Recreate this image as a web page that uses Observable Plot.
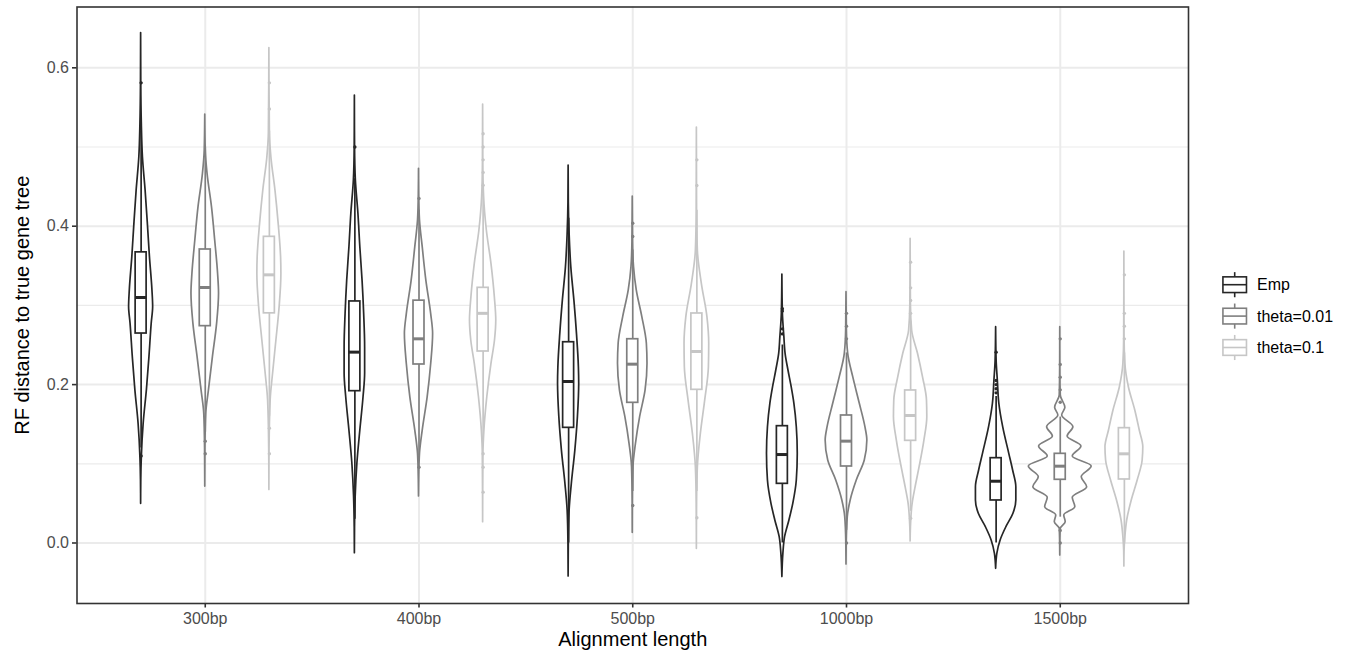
<!DOCTYPE html>
<html>
<head>
<meta charset="utf-8">
<script src="https://cdn.jsdelivr.net/npm/d3@7"></script>
<script src="https://cdn.jsdelivr.net/npm/@observablehq/plot@0.6"></script>
<style>
  body { margin: 0; background: white; font-family: "Liberation Sans", Arial, sans-serif; }
  #wrap { position: relative; width: 1351px; height: 655px; }
  #legend { position: absolute; left: 1219px; top: 268.6px; }
</style>
</head>
<body>
<div id="wrap"><div id="chart"></div><div id="legend"></div></div>
<script>
// ---------------- data ----------------
const groups = ["300bp", "400bp", "500bp", "1000bp", "1500bp"];
const series = ["Emp", "theta=0.01", "theta=0.1"];
const yTicks = [0, 0.2, 0.4, 0.6];
const yMinorTicks = [0.1, 0.3, 0.5];

// boxplot statistics per group
const empQ1  = [0.2645, 0.1917, 0.1454, 0.0747, 0.0537];
const empMed = [0.310, 0.241, 0.2039, 0.1117, 0.078];
const empQ3  = [0.367, 0.305, 0.2535, 0.1475, 0.1071];
const empLo  = [0.12, 0.03, 0.0, 0.0, 0.0];
const empHi  = [0.52, 0.46, 0.41, 0.25, 0.185];
const empOut = [[0.581, 0.110], [0.500], [], [0.2957, 0.2928, 0.2704, 0.264], [0.241, 0.2052, 0.200, 0.1947, 0.1896]];

const t01Q1  = [0.2738, 0.2254, 0.177, 0.0966, 0.0798];
const t01Med = [0.3226, 0.2578, 0.2258, 0.1286, 0.097];
const t01Q3  = [0.3706, 0.306, 0.2573, 0.161, 0.1126];
const t01Lo  = [0.14, 0.11, 0.065, 0.016, 0.0326];
const t01Hi  = [0.50, 0.42, 0.37, 0.24, 0.159];
const t01Out = [[0.1286, 0.1126], [0.435, 0.0957], [0.4038, 0.387, 0.0473], [0.290, 0.2738, 0.2578, 0.0], [0.2578, 0.2254, 0.2094, 0.1934, 0.1778, 0.0158, 0.0]];

const t1Q1  = [0.290, 0.2418, 0.1934, 0.129, 0.0802];
const t1Med = [0.3386, 0.290, 0.2418, 0.161, 0.1126];
const t1Q3  = [0.3866, 0.3222, 0.2898, 0.1926, 0.145];
const t1Lo  = [0.16, 0.13, 0.065, 0.04, 0.0];
const t1Hi  = [0.52, 0.44, 0.42, 0.28, 0.24];
const t1Out = [[0.581, 0.548, 0.145, 0.1126], [0.5167, 0.500, 0.4838, 0.4678, 0.4518, 0.1126, 0.0957, 0.0642], [0.4838, 0.4514, 0.0318], [0.3546, 0.3222, 0.3062, 0.290, 0.0313], [0.3386, 0.290, 0.2738, 0.2578]];

// violin density profiles: [value, relative density]
const empViolin = [
  [[0.644,0],[0.58,0.005],[0.529,0.022],[0.487,0.056],[0.445,0.14],[0.403,0.21],[0.361,0.275],[0.319,0.353],[0.298,0.375],[0.277,0.33],[0.235,0.26],[0.193,0.18],[0.150,0.078],[0.108,0.022],[0.08,0.005],[0.0495,0]],
  [[0.565,0],[0.50,0.006],[0.458,0.031],[0.416,0.11],[0.3735,0.17],[0.331,0.24],[0.289,0.29],[0.247,0.32],[0.214,0.32],[0.184,0.27],[0.142,0.17],[0.100,0.078],[0.058,0.025],[0.02,0.005],[-0.0128,0]],
  [[0.4766,0],[0.43,0.006],[0.390,0.031],[0.348,0.084],[0.306,0.18],[0.264,0.26],[0.222,0.32],[0.201,0.33],[0.159,0.29],[0.117,0.21],[0.0747,0.10],[0.041,0.031],[0.0,0.006],[-0.0423,0]],
  [[0.339,0],[0.29,0.016],[0.2599,0.0625],[0.2389,0.10],[0.2178,0.19],[0.1967,0.29],[0.1758,0.375],[0.1462,0.45],[0.1126,0.48],[0.0789,0.45],[0.0495,0.34],[0.0284,0.22],[0.0073,0.084],[-0.0137,0.031],[-0.043,0]],
  [[0.2725,0],[0.23,0.016],[0.2052,0.053],[0.1758,0.10],[0.1462,0.22],[0.1126,0.41],[0.0915,0.53],[0.0705,0.63],[0.0537,0.63],[0.0369,0.54],[0.02,0.32],[0.0032,0.14],[-0.0137,0.0375],[-0.0326,0]]
];
const t01Violin = [
  [[0.541,0],[0.496,0.016],[0.466,0.072],[0.424,0.21],[0.382,0.31],[0.340,0.40],[0.315,0.43],[0.277,0.37],[0.235,0.24],[0.193,0.116],[0.163,0.031],[0.12,0.006],[0.0713,0]],
  [[0.4725,0],[0.44,0.006],[0.407,0.031],[0.3735,0.116],[0.331,0.23],[0.289,0.38],[0.264,0.44],[0.226,0.38],[0.184,0.27],[0.142,0.116],[0.1126,0.031],[0.08,0.006],[0.0587,0]],
  [[0.4375,0],[0.38,0.01],[0.348,0.04],[0.319,0.125],[0.285,0.30],[0.2515,0.44],[0.2263,0.46],[0.1926,0.40],[0.1589,0.23],[0.1252,0.10],[0.0957,0.022],[0.05,0.003],[0.0129,0]],
  [[0.3167,0],[0.27,0.01],[0.2389,0.053],[0.2094,0.21],[0.1758,0.415],[0.1462,0.59],[0.1294,0.65],[0.1042,0.57],[0.0789,0.32],[0.0537,0.13],[0.0326,0.04],[0.0,0.006],[-0.0271,0]],
  [[0.2725,0],[0.22,0.003],[0.1862,0.016],[0.1707,0.16],[0.161,0.06],[0.1462,0.41],[0.1345,0.23],[0.1218,0.66],[0.1092,0.39],[0.0966,0.98],[0.0831,0.67],[0.0705,0.84],[0.0571,0.39],[0.0452,0.47],[0.0347,0.125],[0.0263,0.17],[0.0179,0.016],[0.0,0.003],[-0.0158,0]]
];
const t1Violin = [
  [[0.625,0],[0.517,0.016],[0.487,0.0625],[0.445,0.19],[0.403,0.29],[0.361,0.365],[0.340,0.375],[0.298,0.32],[0.256,0.22],[0.214,0.116],[0.180,0.04],[0.12,0.006],[0.067,0]],
  [[0.5537,0],[0.48,0.006],[0.4366,0.031],[0.3946,0.116],[0.3525,0.26],[0.3104,0.365],[0.281,0.41],[0.2557,0.37],[0.2263,0.26],[0.184,0.13],[0.142,0.04],[0.1126,0.01],[0.0263,0]],
  [[0.5246,0],[0.42,0.006],[0.369,0.031],[0.327,0.156],[0.285,0.33],[0.2515,0.385],[0.222,0.375],[0.180,0.26],[0.138,0.125],[0.0957,0.031],[0.05,0.006],[-0.0074,0]],
  [[0.384,0],[0.30,0.01],[0.2683,0.047],[0.2389,0.23],[0.2094,0.385],[0.180,0.51],[0.1589,0.52],[0.1294,0.43],[0.0957,0.28],[0.0705,0.156],[0.0495,0.0625],[0.02,0.01],[0.0019,0]],
  [[0.368,0],[0.26,0.006],[0.2263,0.031],[0.1967,0.14],[0.1673,0.34],[0.142,0.48],[0.121,0.59],[0.1042,0.57],[0.0789,0.415],[0.0537,0.23],[0.0284,0.0875],[0.0073,0.031],[-0.01,0.006],[-0.0297,0]]
];

// ---------------- build tables ----------------
const colors = ["#262626", "#7f7f7f", "#c6c6c6"];
const dodge = [-0.3, 0, 0.3];
const violinHalf = 0.15;   // half width (x units) at relative density 1
const boxHalf = 0.0257;

const stats = [
  {q1: empQ1, med: empMed, q3: empQ3, lo: empLo, hi: empHi, out: empOut, prof: empViolin},
  {q1: t01Q1, med: t01Med, q3: t01Q3, lo: t01Lo, hi: t01Hi, out: t01Out, prof: t01Violin},
  {q1: t1Q1, med: t1Med, q3: t1Q3, lo: t1Lo, hi: t1Hi, out: t1Out, prof: t1Violin}
];

const violinRows = [], boxRows = [], outRows = [];
series.forEach((s, si) => {
  const st = stats[si];
  groups.forEach((g, gi) => {
    const cx = gi + dodge[si];
    const prof = st.prof[gi].slice().sort((a, b) => a[0] - b[0]);
    prof.forEach(([v, d]) => violinRows.push({key: s + "|" + g, series: s, v, xl: cx - d * violinHalf, xr: cx + d * violinHalf}));
    boxRows.push({series: s, x: cx, q1: st.q1[gi], med: st.med[gi], q3: st.q3[gi], lo: st.lo[gi], hi: st.hi[gi]});
    st.out[gi].forEach(v => outRows.push({series: s, x: cx, v}));
  });
});

const chart = Plot.plot({
  width: 1351,
  height: 655,
  marginLeft: 76.5,
  marginRight: 163,
  marginTop: 6.5,
  marginBottom: 52,
  x: {domain: [-0.6, 4.6], axis: null},
  y: {domain: [-0.0764, 0.6768], axis: null},
  color: {domain: series, range: colors},
  style: {fontFamily: "'Liberation Sans', Arial, sans-serif", fontSize: "16px", background: "white"},
  marks: [
    Plot.gridY(yMinorTicks, {stroke: "#ebebeb", strokeOpacity: 1, strokeWidth: 1.2}),
    Plot.gridY(yTicks, {stroke: "#ebebeb", strokeOpacity: 1, strokeWidth: 2}),
    Plot.gridX(d3.range(groups.length), {stroke: "#ebebeb", strokeOpacity: 1, strokeWidth: 2}),
    Plot.areaX(violinRows, {y: "v", x1: "xl", x2: "xr", z: "key", fill: "white", stroke: "series", strokeWidth: 1.7, curve: "monotone-y"}),
    Plot.ruleX(boxRows, {x: "x", y1: "q3", y2: "hi", stroke: "series", strokeWidth: 1.7}),
    Plot.ruleX(boxRows, {x: "x", y1: "lo", y2: "q1", stroke: "series", strokeWidth: 1.7}),
    Plot.rect(boxRows, {x1: d => d.x - boxHalf, x2: d => d.x + boxHalf, y1: "q1", y2: "q3", fill: "white", stroke: "series", strokeWidth: 1.7}),
    Plot.ruleY(boxRows, {y: "med", x1: d => d.x - boxHalf, x2: d => d.x + boxHalf, stroke: "series", strokeWidth: 3}),
    Plot.dot(outRows, {x: "x", y: "v", r: 1.7, fill: "series", stroke: null}),
    Plot.frame({stroke: "#333333", strokeWidth: 1.6}),
    Plot.axisX(d3.range(groups.length), {tickFormat: i => groups[i], tickSize: 4.5, tickPadding: 5, stroke: "#333333", strokeWidth: 1.6, fill: "#4d4d4d", fontSize: 16, label: null}),
    Plot.axisY(yTicks, {tickFormat: d3.format(".1f"), tickSize: 4.5, tickPadding: 3.5, stroke: "#333333", strokeWidth: 1.6, fill: "#4d4d4d", fontSize: 16, label: null}),
    Plot.text(["RF distance to true gene tree"], {frameAnchor: "left", dx: -54, rotate: -90, textAnchor: "middle", fontSize: 20, fill: "black"}),
    Plot.text(["Alignment length"], {frameAnchor: "bottom", dy: 42, textAnchor: "middle", fontSize: 20, fill: "black"})
  ]
});
document.getElementById("chart").appendChild(chart);

// ---------------- legend ----------------
const key = 31.4;
const lsvg = d3.create("svg").attr("width", 140).attr("height", key * series.length + 2)
  .style("font-family", "'Liberation Sans', Arial, sans-serif").style("overflow", "visible");
series.forEach((s, i) => {
  const g = lsvg.append("g").attr("transform", `translate(0,${i * key})`);
  const c = colors[i];
  g.append("line").attr("x1", key / 2).attr("x2", key / 2).attr("y1", key * 0.1).attr("y2", key * 0.9).attr("stroke", c).attr("stroke-width", 1.6);
  g.append("rect").attr("x", key * 0.125).attr("y", key * 0.25).attr("width", key * 0.75).attr("height", key * 0.5).attr("fill", "white").attr("stroke", c).attr("stroke-width", 1.6);
  g.append("line").attr("x1", key * 0.125).attr("x2", key * 0.875).attr("y1", key / 2).attr("y2", key / 2).attr("stroke", c).attr("stroke-width", 1.6);
  g.append("text").attr("x", 38).attr("y", key / 2).attr("dy", "0.35em").attr("font-size", 16).attr("fill", "black").text(s);
});
document.getElementById("legend").appendChild(lsvg.node());
</script>
</body>
</html>
